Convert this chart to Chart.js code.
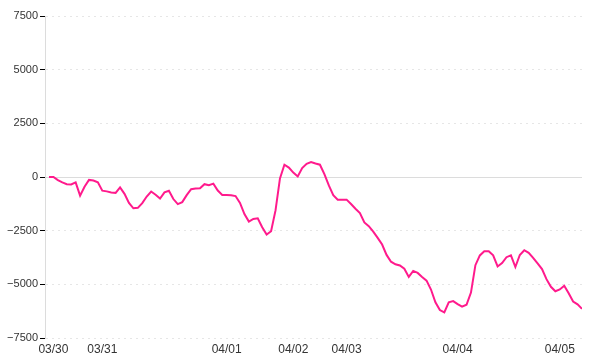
<!DOCTYPE html>
<html>
<head>
<meta charset="utf-8">
<script src="https://cdn.jsdelivr.net/npm/chart.js@4"></script>
<style>
html,body{margin:0;padding:0;background:#fff;}
#wrap{width:600px;height:360px;}
</style>
</head>
<body>
<div id="wrap"><canvas id="c" width="600" height="360"></canvas></div>
<script>
// Series values (one per sample)
const values = [
  0, 0, -144, -251, -335, -349, -251, -869, -451, -135,
  -167, -251, -637, -669, -725, -739, -483, -785, -1208, -1459,
  -1436, -1218, -911, -678, -827, -1000, -716, -641, -1027, -1264,
  -1171, -846, -567, -539, -520, -335, -381, -311, -632, -836,
  -836, -855, -888, -1208, -1724, -2077, -1952, -1924, -2337, -2681,
  -2528, -1557, -65, 572, 437, 204, 28, 418, 613, 697,
  627, 572, 135, -395, -846, -1055, -1055, -1055, -1259, -1478,
  -1682, -2119, -2291, -2542, -2835, -3146, -3629, -3945, -4066, -4122,
  -4275, -4656, -4377, -4470, -4656, -4828, -5242, -5837, -6199, -6306,
  -5841, -5781, -5920, -6041, -5953, -5386, -4108, -3653, -3457, -3462,
  -3648, -4168, -4006, -3736, -3648, -4192, -3634, -3411, -3532, -3764,
  -4029, -4289, -4759, -5116, -5321, -5237, -5065, -5418, -5804, -5934,
  -6143
];
// Date labels and the sample index where each appears
const dateLabels = ['03/30', '03/31', '04/01', '04/02', '04/03', '04/04', '04/05'];
const dateIndex = [1, 12, 40, 55, 67, 92, 115];
// Y tick values
const yTicks = [-7500, -5000, -2500, 0, 2500, 5000, 7500];

const points = values.map((v, i) => ({x: i, y: v}));

new Chart(document.getElementById('c'), {
  type: 'line',
  data: {
    datasets: [{
      data: points,
      borderColor: '#ff1a8c',
      borderWidth: 2,
      pointRadius: 0,
      tension: 0,
      fill: false
    }]
  },
  options: {
    responsive: false,
    animation: false,
    layout: {padding: {top: 16, right: 18, bottom: 0, left: 0}},
    plugins: {legend: {display: false}, tooltip: {enabled: false}},
    scales: {
      x: {
        type: 'linear',
        min: -0.9,
        max: values.length - 1,
        afterBuildTicks: (scale) => { scale.ticks = dateIndex.map(v => ({value: v})); },
        afterFit: (scale) => { scale.height = 22; },
        grid: {display: false, drawTicks: false},
        border: {display: false},
        ticks: {
          autoSkip: false,
          maxRotation: 0,
          padding: 4,
          color: '#333',
          font: {family: 'Liberation Sans, Arial, sans-serif', size: 12},
          callback: (v) => { const k = dateIndex.indexOf(v); return k >= 0 ? dateLabels[k] : ''; }
        }
      },
      y: {
        min: -7500,
        max: 7500,
        afterBuildTicks: (scale) => { scale.ticks = yTicks.map(v => ({value: v})); },
        afterFit: (scale) => { scale.width = 45; },
        grid: {
          color: (ctx) => (ctx.tick && ctx.tick.value === 0) ? '#dcdcdc' : '#e6e6e6',
          lineWidth: 1,
          tickColor: '#000',
          tickLength: 5
        },
        border: {
          display: true,
          color: '#dcdcdc',
          width: 1,
          dash: (ctx) => (ctx.tick && ctx.tick.value === 0) ? [] : [2, 4]
        },
        ticks: {
          padding: 2,
          color: '#333',
          font: {family: 'Liberation Sans, Arial, sans-serif', size: 11},
          callback: (v) => (v < 0 ? '\u2212' + Math.abs(v) : String(v))
        }
      }
    }
  }
});
</script>
</body>
</html>
